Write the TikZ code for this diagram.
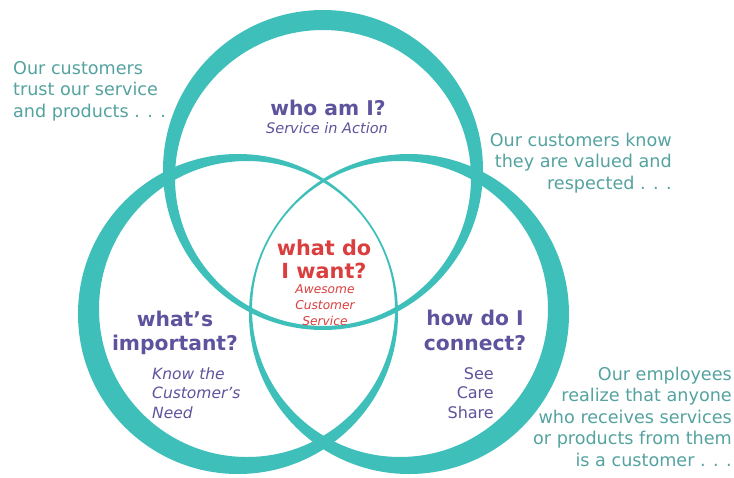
\documentclass[tikz,border=0pt]{standalone}
\usepackage{fontspec}
\setmainfont{DejaVu Sans}
\definecolor{ringc}{RGB}{62,191,185}
\definecolor{tealtxt}{RGB}{84,163,160}
\definecolor{purp}{RGB}{94,84,158}
\definecolor{redt}{RGB}{219,62,62}
\begin{document}
\begin{tikzpicture}[x=1pt,y=-1pt,
  ring/.style={fill=ringc, even odd rule},
  side/.style={text=tealtxt, inner sep=0pt, font=\fontsize{17.6}{21.5}\selectfont},
  head/.style={text=purp, inner sep=0pt, align=center, font=\bfseries\fontsize{20.3}{23.5}\selectfont},
  redhead/.style={text=redt, inner sep=0pt, align=center, font=\bfseries\fontsize{20.8}{23}\selectfont},
  sub/.style={text=purp, inner sep=0pt, font=\itshape\fontsize{15.5}{19.5}\selectfont},
  plain/.style={text=purp, inner sep=0pt, font=\fontsize{16}{19.5}\selectfont},
  redsub/.style={text=redt, inner sep=0pt, align=center, font=\itshape\fontsize{12.2}{16}\selectfont}]
\useasboundingbox (0,0) rectangle (734,477);
\fill[white] (0,0) rectangle (734,477);
% rings
\fill[ring] (323,170) circle[radius=160pt] (323,178) circle[radius=148pt];
\fill[ring] (238,314) circle[radius=160pt] (247,309) circle[radius=148pt];
\fill[ring] (409,314) circle[radius=160pt] (400,309) circle[radius=148pt];
% side texts (base anchor = baseline of last line)
\node[side, anchor=base west, align=left] (trust) at (13,117) {Our customers\\trust our service\\and products . . .};
\node[side, anchor=base east, align=right] (valued) at (672,189) {Our customers know\\they are valued and\\respected . . .};
\node[side, anchor=base east, align=right] (employees) at (732,466) {Our employees\\realize that anyone\\who receives services\\or products from them\\is a customer . . .};
% circle texts
\node[head, anchor=base] (who) at (328,115) {who am I?};
\node[sub, anchor=base, font=\itshape\fontsize{14.5}{18}\selectfont] (action) at (327,133) {Service in Action};
\node[redhead, anchor=base] (want) at (324,278) {what do\\I want?};
\node[redsub, anchor=base] (awesome) at (325,325) {Awesome\\Customer\\Service};
\node[head, anchor=base] (important) at (175,350) {what’s\\important?};
\node[sub, anchor=base west, align=left] (need) at (152,418) {Know the\\Customer’s\\Need};
\node[head, anchor=base, font=\bfseries\fontsize{20.3}{25}\selectfont] (connect) at (475,350) {how do I\\connect?};
\node[plain, anchor=base east, align=right] (share) at (494,418) {See\\Care\\Share};
\end{tikzpicture}
\end{document}
